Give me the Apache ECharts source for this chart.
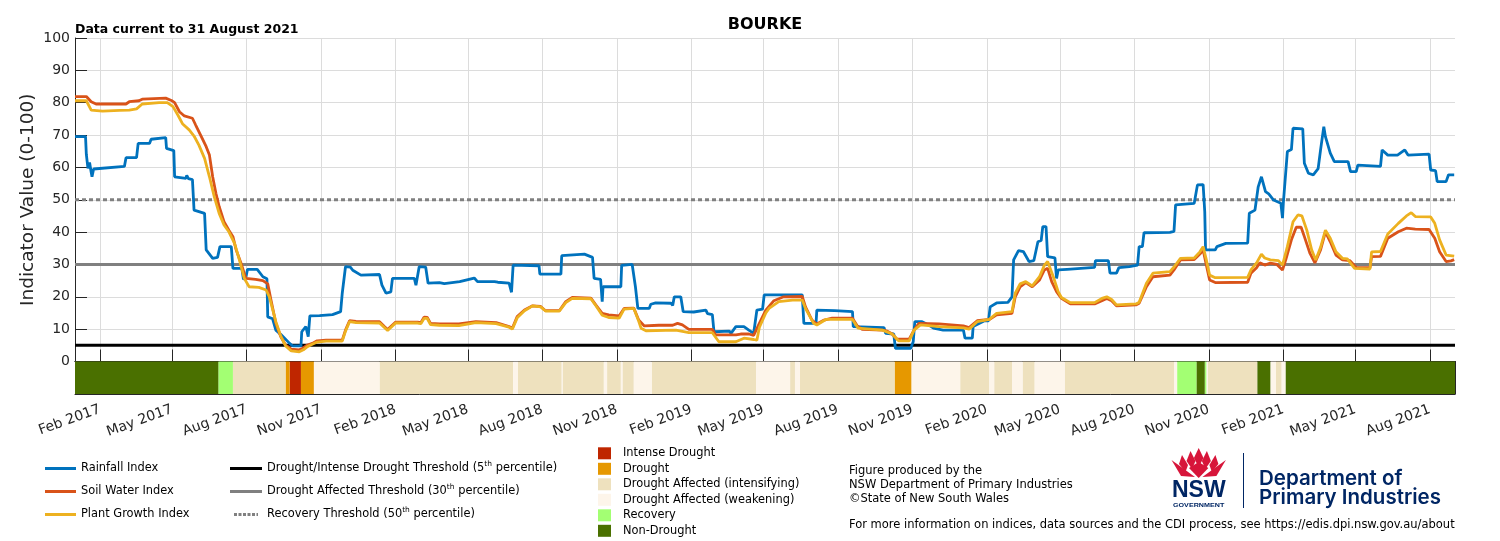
<!DOCTYPE html>
<html>
<head>
<meta charset="utf-8">
<title>BOURKE</title>
<script src="https://cdn.jsdelivr.net/npm/echarts@6.0.0/dist/echarts.min.js"></script>
<style>
  html, body { margin: 0; padding: 0; background: #fff; }
  #chart { width: 1500px; height: 541px; }
</style>
</head>
<body>
<div id="chart"></div>
<script>
// time range of the plot
var xMin = '2017-01-01';
var xMax = '2021-09-01';

// quarterly ticks
var tickDates = ['2017-02-01','2017-05-01','2017-08-01','2017-11-01','2018-02-01','2018-05-01','2018-08-01','2018-11-01',
  '2019-02-01','2019-05-01','2019-08-01','2019-11-01','2020-02-01','2020-05-01','2020-08-01','2020-11-01',
  '2021-02-01','2021-05-01','2021-08-01'];
var tickLabels = ['Feb 2017','May 2017','Aug 2017','Nov 2017','Feb 2018','May 2018','Aug 2018','Nov 2018',
  'Feb 2019','May 2019','Aug 2019','Nov 2019','Feb 2020','May 2020','Aug 2020','Nov 2020',
  'Feb 2021','May 2021','Aug 2021'];

// indices
var rainfallIndex = [['2017-01-01',69.5],['2017-01-14',69.5],['2017-01-15',64],['2017-01-17',59.7],['2017-01-19',61.5],['2017-01-21',58.5],['2017-01-22',57.1],['2017-01-24',59.5],['2017-01-25',60.1],['2017-03-03',60.3],['2017-03-05',63.0],['2017-03-18',63.0],['2017-03-20',67.4],['2017-04-03',67.4],['2017-04-05',68.7],['2017-04-23',69.2],['2017-04-24',65.9],['2017-05-03',65.2],['2017-05-04',57.1],['2017-05-18',56.6],['2017-05-19',57.5],['2017-05-21',56.5],['2017-05-26',56.2],['2017-05-28',46.8],['2017-06-10',45.8],['2017-06-12',34.5],['2017-06-20',31.9],['2017-06-26',32.2],['2017-06-29',35.5],['2017-07-13',35.5],['2017-07-15',28.8],['2017-07-26',28.8],['2017-07-28',25.4],['2017-07-31',26.0],['2017-08-02',28.5],['2017-08-14',28.5],['2017-08-21',26.2],['2017-08-26',25.6],['2017-08-27',13.8],['2017-09-02',13.2],['2017-09-06',9.7],['2017-09-12',8.4],['2017-09-23',5.6],['2017-09-27',4.8],['2017-10-07',4.8],['2017-10-08',9.2],['2017-10-13',10.8],['2017-10-16',7.7],['2017-10-18',14.1],['2017-10-30',14.2],['2017-11-15',14.5],['2017-11-25',15.4],['2017-11-27',21.1],['2017-12-01',29.3],['2017-12-07',29.2],['2017-12-10',28.2],['2017-12-20',26.7],['2018-01-12',26.9],['2018-01-15',23.6],['2018-01-20',21.1],['2018-01-26',21.5],['2018-01-28',25.7],['2018-02-24',25.7],['2018-02-26',23.6],['2018-03-02',29.3],['2018-03-10',29.2],['2018-03-13',24.2],['2018-03-27',24.4],['2018-04-02',24.1],['2018-04-21',24.7],['2018-05-09',25.8],['2018-05-13',24.7],['2018-06-03',24.7],['2018-06-07',24.5],['2018-06-21',24.2],['2018-06-24',21.4],['2018-06-26',29.8],['2018-07-28',29.6],['2018-07-29',27.0],['2018-08-24',27.0],['2018-08-25',32.7],['2018-09-22',33.2],['2018-10-02',32.2],['2018-10-04',25.7],['2018-10-12',25.4],['2018-10-14',18.5],['2018-10-15',23.1],['2018-11-06',23.1],['2018-11-07',29.7],['2018-11-20',30.0],['2018-11-24',23.1],['2018-11-27',16.4],['2018-12-11',16.4],['2018-12-13',17.7],['2018-12-19',18.1],['2019-01-07',18.0],['2019-01-09',17.3],['2019-01-11',20.0],['2019-01-19',20.0],['2019-01-22',15.4],['2019-02-04',15.3],['2019-02-06',15.9],['2019-02-19',15.9],['2019-02-21',14.8],['2019-02-27',14.5],['2019-03-01',9.2],['2019-03-20',9.4],['2019-03-22',8.7],['2019-03-28',10.8],['2019-04-07',10.8],['2019-04-13',9.7],['2019-04-19',8.7],['2019-04-23',15.9],['2019-04-30',16.2],['2019-05-02',20.6],['2019-06-18',20.6],['2019-06-20',11.8],['2019-07-05',11.8],['2019-07-06',15.9],['2019-07-28',15.7],['2019-08-19',15.4],['2019-08-20',10.8],['2019-09-27',10.5],['2019-09-29',8.7],['2019-10-09',8.5],['2019-10-11',4.1],['2019-10-30',4.1],['2019-11-02',6.1],['2019-11-04',12.3],['2019-11-13',12.3],['2019-11-21',11.3],['2019-11-27',10.3],['2019-12-09',9.7],['2020-01-03',9.7],['2020-01-05',7.2],['2020-01-14',7.2],['2020-01-15',10.8],['2020-01-29',12.6],['2020-02-03',12.6],['2020-02-05',16.9],['2020-02-13',18.1],['2020-02-27',18.3],['2020-03-03',20.0],['2020-03-05',31.4],['2020-03-11',34.3],['2020-03-17',34.0],['2020-03-24',30.9],['2020-03-30',31.2],['2020-04-04',37.0],['2020-04-08',37.4],['2020-04-10',41.7],['2020-04-14',41.7],['2020-04-16',32.4],['2020-04-25',32.0],['2020-04-27',25.7],['2020-04-29',28.3],['2020-05-10',28.5],['2020-06-13',29.1],['2020-06-14',31.2],['2020-06-30',31.2],['2020-07-02',27.3],['2020-07-10',27.3],['2020-07-13',29.0],['2020-07-26',29.3],['2020-08-05',29.8],['2020-08-07',35.5],['2020-08-11',35.5],['2020-08-13',39.8],['2020-09-14',39.9],['2020-09-19',40.2],['2020-09-21',48.4],['2020-10-14',48.9],['2020-10-18',54.6],['2020-10-25',54.7],['2020-10-27',46.3],['2020-10-28',34.5],['2020-11-09',34.5],['2020-11-11',35.5],['2020-11-22',36.5],['2020-12-19',36.6],['2020-12-21',45.8],['2020-12-28',46.8],['2021-01-01',54.0],['2021-01-05',57.1],['2021-01-10',52.5],['2021-01-14',51.8],['2021-01-20',49.9],['2021-01-29',48.9],['2021-01-31',44.3],['2021-02-01',48.9],['2021-02-06',64.9],['2021-02-11',65.5],['2021-02-13',72.1],['2021-02-25',71.9],['2021-02-27',61.3],['2021-03-04',58.2],['2021-03-10',57.7],['2021-03-16',59.6],['2021-03-19',65.4],['2021-03-23',72.6],['2021-03-25',69.5],['2021-03-31',64.4],['2021-04-05',61.8],['2021-04-22',61.8],['2021-04-25',58.7],['2021-05-02',58.7],['2021-05-04',60.7],['2021-06-01',60.3],['2021-06-03',65.4],['2021-06-10',63.8],['2021-06-22',63.8],['2021-07-01',65.4],['2021-07-05',63.8],['2021-07-31',64.1],['2021-08-02',59.2],['2021-08-08',59.0],['2021-08-10',55.6],['2021-08-21',55.6],['2021-08-24',57.7],['2021-08-31',57.7]];

var soilWaterIndex = [['2017-01-01',81.9],['2017-01-15',81.9],['2017-01-21',80.3],['2017-01-27',79.6],['2017-03-05',79.6],['2017-03-09',80.3],['2017-03-21',80.6],['2017-03-25',81.1],['2017-04-23',81.4],['2017-04-30',80.7],['2017-05-04',80.0],['2017-05-10',77.2],['2017-05-16',75.9],['2017-05-26',75.2],['2017-05-30',73.1],['2017-06-06',69.5],['2017-06-12',66.4],['2017-06-16',63.8],['2017-06-20',57.1],['2017-06-24',52.0],['2017-06-28',47.9],['2017-07-04',43.2],['2017-07-10',40.6],['2017-07-15',38.6],['2017-07-19',34.5],['2017-07-25',30.4],['2017-07-31',25.7],['2017-08-12',25.4],['2017-08-21',25.0],['2017-08-27',24.0],['2017-08-31',19.0],['2017-09-06',11.8],['2017-09-12',7.7],['2017-09-18',5.1],['2017-09-25',3.8],['2017-10-05',3.6],['2017-10-10',4.2],['2017-10-15',5.1],['2017-10-21',5.6],['2017-10-27',6.4],['2017-11-07',6.6],['2017-11-27',6.6],['2017-12-01',9.7],['2017-12-06',12.6],['2017-12-14',12.4],['2018-01-12',12.3],['2018-01-18',10.8],['2018-01-22',9.9],['2018-01-28',11.3],['2018-02-01',12.2],['2018-02-28',12.2],['2018-03-04',12.0],['2018-03-08',13.7],['2018-03-12',13.6],['2018-03-16',11.8],['2018-03-27',11.6],['2018-04-20',11.6],['2018-05-11',12.3],['2018-06-05',12.0],['2018-06-21',10.8],['2018-06-25',10.3],['2018-07-01',13.9],['2018-07-10',15.9],['2018-07-20',17.2],['2018-07-30',17.0],['2018-08-05',15.7],['2018-08-22',15.7],['2018-08-30',18.5],['2018-09-07',19.8],['2018-09-30',19.6],['2018-10-06',17.5],['2018-10-14',14.9],['2018-10-22',14.4],['2018-11-04',14.1],['2018-11-10',16.4],['2018-11-22',16.5],['2018-11-28',12.8],['2018-12-05',11.0],['2018-12-23',11.2],['2019-01-09',11.2],['2019-01-15',11.8],['2019-01-21',11.3],['2019-01-29',9.9],['2019-02-27',9.9],['2019-03-03',8.2],['2019-03-28',8.2],['2019-04-03',8.5],['2019-04-13',8.5],['2019-04-19',8.1],['2019-04-26',11.8],['2019-05-04',15.9],['2019-05-14',18.8],['2019-05-26',20.0],['2019-06-18',20.1],['2019-06-22',16.9],['2019-06-30',12.8],['2019-07-06',11.6],['2019-07-15',12.8],['2019-07-25',13.4],['2019-08-19',13.4],['2019-08-25',11.0],['2019-08-31',9.9],['2019-09-25',9.7],['2019-10-01',9.4],['2019-10-07',8.5],['2019-10-13',6.9],['2019-10-28',6.9],['2019-11-03',9.7],['2019-11-09',11.8],['2019-12-04',11.6],['2020-01-03',11.0],['2020-01-10',10.5],['2020-01-20',12.6],['2020-02-04',13.0],['2020-02-13',14.4],['2020-03-03',14.9],['2020-03-07',20.0],['2020-03-13',23.1],['2020-03-20',24.4],['2020-03-28',23.1],['2020-04-06',25.2],['2020-04-12',28.3],['2020-04-16',28.8],['2020-04-21',24.7],['2020-04-27',21.6],['2020-05-03',19.5],['2020-05-14',17.8],['2020-06-13',17.8],['2020-06-22',18.8],['2020-06-28',19.5],['2020-07-04',18.8],['2020-07-10',17.2],['2020-08-03',17.5],['2020-08-07',18.0],['2020-08-16',23.1],['2020-08-24',26.2],['2020-09-14',26.7],['2020-09-19',28.3],['2020-09-27',31.4],['2020-10-14',31.5],['2020-10-21',33.2],['2020-10-25',34.5],['2020-10-29',29.8],['2020-11-02',25.2],['2020-11-09',24.4],['2020-12-19',24.5],['2020-12-23',27.3],['2020-12-30',29.0],['2021-01-03',30.5],['2021-01-09',29.8],['2021-01-16',30.4],['2021-01-24',30.0],['2021-01-31',28.3],['2021-02-04',31.4],['2021-02-11',37.6],['2021-02-17',41.5],['2021-02-23',41.5],['2021-02-27',38.6],['2021-03-06',33.4],['2021-03-12',30.5],['2021-03-19',34.5],['2021-03-25',40.1],['2021-03-31',37.0],['2021-04-07',32.9],['2021-04-15',31.4],['2021-04-24',31.2],['2021-05-02',29.1],['2021-05-19',29.0],['2021-05-21',32.4],['2021-06-01',32.5],['2021-06-10',38.1],['2021-06-23',40.1],['2021-07-03',41.2],['2021-07-14',40.9],['2021-07-31',40.8],['2021-08-07',38.1],['2021-08-13',33.9],['2021-08-21',30.9],['2021-08-27',31.1],['2021-08-31',31.5]];

var plantGrowthIndex = [['2017-01-01',80.6],['2017-01-15',80.6],['2017-01-21',77.7],['2017-02-04',77.4],['2017-02-25',77.6],['2017-03-09',77.7],['2017-03-18',78.1],['2017-03-25',79.6],['2017-04-15',80.0],['2017-04-25',80.0],['2017-05-02',78.8],['2017-05-08',76.2],['2017-05-14',73.4],['2017-05-22',71.6],['2017-05-28',69.7],['2017-06-03',66.9],['2017-06-10',62.8],['2017-06-16',57.1],['2017-06-22',50.9],['2017-06-28',45.8],['2017-07-04',42.2],['2017-07-10',40.1],['2017-07-17',36.5],['2017-07-23',31.4],['2017-07-29',25.7],['2017-08-04',23.1],['2017-08-16',22.9],['2017-08-25',22.1],['2017-08-29',20.0],['2017-09-06',12.3],['2017-09-12',7.9],['2017-09-18',4.8],['2017-09-25',3.3],['2017-10-05',3.0],['2017-10-10',3.6],['2017-10-15',4.6],['2017-10-21',5.3],['2017-10-27',6.0],['2017-11-07',6.3],['2017-11-27',6.3],['2017-12-01',9.4],['2017-12-06',12.3],['2017-12-14',12.0],['2018-01-12',11.9],['2018-01-18',10.5],['2018-01-22',9.6],['2018-01-28',11.0],['2018-02-01',11.9],['2018-02-28',11.9],['2018-03-04',11.7],['2018-03-08',13.3],['2018-03-12',13.3],['2018-03-16',11.4],['2018-03-27',11.2],['2018-04-20',11.1],['2018-05-11',12.0],['2018-06-05',11.7],['2018-06-21',10.6],['2018-06-25',10.0],['2018-07-01',13.5],['2018-07-10',15.7],['2018-07-20',17.2],['2018-07-30',16.9],['2018-08-05',15.6],['2018-08-22',15.6],['2018-08-30',18.2],['2018-09-07',19.5],['2018-09-30',19.4],['2018-10-06',17.3],['2018-10-14',14.3],['2018-10-22',13.6],['2018-11-04',13.4],['2018-11-10',16.2],['2018-11-22',16.4],['2018-11-28',12.5],['2018-12-01',10.3],['2018-12-07',9.5],['2019-01-13',9.7],['2019-01-29',8.9],['2019-02-27',8.9],['2019-03-03',7.5],['2019-03-07',6.1],['2019-03-28',6.1],['2019-04-07',7.2],['2019-04-19',6.8],['2019-04-23',6.6],['2019-04-26',10.5],['2019-05-04',15.0],['2019-05-08',16.4],['2019-05-20',18.5],['2019-06-06',19.0],['2019-06-18',19.0],['2019-06-22',16.4],['2019-07-02',11.8],['2019-07-06',11.3],['2019-07-17',13.0],['2019-08-19',13.0],['2019-08-26',10.3],['2019-09-25',9.7],['2019-10-07',8.5],['2019-10-15',6.4],['2019-10-28',6.4],['2019-11-03',9.7],['2019-11-11',11.3],['2019-12-04',10.8],['2020-01-03',10.4],['2020-01-10',10.0],['2020-01-20',12.3],['2020-02-04',13.0],['2020-02-13',14.9],['2020-03-03',15.4],['2020-03-07',21.1],['2020-03-13',24.0],['2020-03-20',24.7],['2020-03-28',23.4],['2020-04-06',26.2],['2020-04-12',29.8],['2020-04-16',30.9],['2020-04-23',26.2],['2020-04-29',21.6],['2020-05-03',19.8],['2020-05-14',18.2],['2020-06-13',18.2],['2020-06-22',19.5],['2020-06-28',20.0],['2020-07-04',19.2],['2020-07-10',17.5],['2020-08-03',17.8],['2020-08-07',18.3],['2020-08-16',24.2],['2020-08-24',27.3],['2020-09-14',27.8],['2020-09-19',29.2],['2020-09-27',31.9],['2020-10-14',32.0],['2020-10-21',33.9],['2020-10-25',35.5],['2020-10-29',31.4],['2020-11-02',26.7],['2020-11-09',25.9],['2020-12-19',26.0],['2020-12-23',28.3],['2020-12-30',30.5],['2021-01-05',33.2],['2021-01-09',32.0],['2021-01-16',31.4],['2021-01-26',31.2],['2021-01-31',29.8],['2021-02-06',35.5],['2021-02-13',43.2],['2021-02-19',45.3],['2021-02-24',45.0],['2021-03-02',40.6],['2021-03-08',34.5],['2021-03-13',31.4],['2021-03-19',35.3],['2021-03-25',40.6],['2021-03-31',38.1],['2021-04-07',33.9],['2021-04-15',31.9],['2021-04-21',31.7],['2021-04-30',28.8],['2021-05-19',28.6],['2021-05-21',33.9],['2021-06-01',34.0],['2021-06-10',39.4],['2021-06-23',42.7],['2021-07-03',45.0],['2021-07-09',46.0],['2021-07-14',44.8],['2021-08-02',44.7],['2021-08-07',42.7],['2021-08-13',37.6],['2021-08-21',32.9],['2021-08-31',32.6]];

// thresholds
var intenseThreshold = 5;
var affectedThreshold = 30;
var recoveryThreshold = 50;

// drought status periods [from, to]
var intenseDrought = [['2017-09-23','2017-10-07']];
var drought = [['2017-09-18','2017-09-23'],['2017-10-07','2017-10-23'],['2019-10-10','2019-10-31']];
var affectedIntensifying = [['2017-07-15','2017-09-18'],['2018-01-12','2018-06-26'],['2018-07-02','2018-08-25'],['2018-08-26','2018-10-16'],['2018-10-20','2018-11-06'],['2018-11-08','2018-11-22'],['2018-12-14','2019-04-22'],['2019-06-03','2019-06-09'],['2019-06-15','2019-10-10'],['2019-12-30','2020-02-04'],['2020-02-10','2020-03-03'],['2020-03-16','2020-03-31'],['2020-05-07','2020-09-19'],['2020-10-31','2020-12-31'],['2021-01-23','2021-01-30']];
var affectedWeakening = [['2017-10-23','2018-01-12'],['2018-06-26','2018-07-02'],['2018-08-25','2018-08-26'],['2018-10-16','2018-10-20'],['2018-11-06','2018-11-08'],['2018-11-22','2018-12-14'],['2019-04-22','2019-06-03'],['2019-06-09','2019-06-15'],['2019-10-31','2019-12-30'],['2020-02-04','2020-02-10'],['2020-03-03','2020-03-16'],['2020-03-31','2020-05-07'],['2020-09-19','2020-09-23'],['2020-10-29','2020-10-31'],['2021-01-16','2021-01-23'],['2021-01-30','2021-02-04']];
var recovery = [['2017-06-27','2017-07-15'],['2020-09-23','2020-10-17'],['2020-10-27','2020-10-29']];
var nonDrought = [['2017-01-01','2017-06-27'],['2020-10-17','2020-10-27'],['2020-12-31','2021-01-16'],['2021-02-04','2021-09-01']];

var FONT = 'DejaVu Sans';
var TXT = '#262626';
var LEG = 11.4;

// dates -> ms (the x axes are plain value axes holding timestamps)
function ts(d) { return echarts.time.parse(d).getTime(); }
function toPoints(arr) { return arr.map(function (p) { return [ts(p[0]), p[1]]; }); }
function toSpans(arr) { return arr.map(function (p) { return [ts(p[0]), ts(p[1])]; }); }

var xMinTs = ts(xMin);
var xMaxTs = ts(xMax);
var tickValues = tickDates.map(ts);

var chart = echarts.init(document.getElementById('chart'));

function lineSeries(name, data, color) {
  return {
    name: name, type: 'line', data: toPoints(data), xAxisIndex: 0, yAxisIndex: 0,
    showSymbol: false, symbol: 'none', z: 5, silent: true,
    itemStyle: { color: color },
    lineStyle: { color: color, width: 2.8 }
  };
}

function thresholdSeries(name, value, color, type) {
  return {
    name: name, type: 'line', data: [[xMinTs, value], [xMaxTs, value]],
    xAxisIndex: 0, yAxisIndex: 0, showSymbol: false, symbol: 'none', z: 3, silent: true,
    itemStyle: { color: color },
    lineStyle: { color: color, width: 3, type: type }
  };
}

function statusSeries(name, data, color) {
  return {
    name: name, type: 'custom', data: toSpans(data), xAxisIndex: 2, yAxisIndex: 1,
    encode: { x: [0, 1] },
    itemStyle: { color: color }, silent: true, z: 1,
    renderItem: function (params, api) {
      var a = api.coord([api.value(0), 1]);
      var b = api.coord([api.value(1), 0]);
      return {
        type: 'rect',
        shape: { x: a[0], y: a[1], width: Math.max(b[0] - a[0], 0.8), height: b[1] - a[1] },
        style: { fill: color }
      };
    }
  };
}

function tickText(value) {
  for (var i = 0; i < tickValues.length; i++) {
    if (Math.abs(tickValues[i] - value) < 43200000) return tickLabels[i];
  }
  return '';
}

function timeAxis(extra) {
  var base = {
    type: 'value', min: xMinTs, max: xMaxTs, scale: true,
    axisLine: { show: true, onZero: false, lineStyle: { color: '#262626', width: 1 } },
    axisTick: { show: true, inside: true, length: 10, customValues: tickValues, lineStyle: { color: '#262626' } },
    axisLabel: { show: false },
    splitLine: { show: false }
  };
  return Object.assign(base, extra);
}

// waratah petals for the logo
var petals = [
  [[1198.7,448],[1203.5,458],[1198.7,467],[1193.9,458]],
  [[1190.5,451],[1195.5,461],[1192,469],[1186.5,461]],
  [[1206.9,451],[1210.9,461],[1205.4,469],[1201.9,461]],
  [[1182,455],[1188,465],[1185.5,472],[1179,464]],
  [[1215.4,455],[1218.4,464],[1211.9,472],[1209.4,465]],
  [[1171.5,460],[1184,469],[1195,477],[1181,476]],
  [[1225.9,460],[1216.4,476],[1202.4,477],[1213.4,469]],
  [[1189,468],[1198.7,462],[1208.4,468],[1198.7,478]]
];
var logoGraphics = petals.map(function (p) {
  return { type: 'polygon', shape: { points: p }, style: { fill: '#D7153A' }, silent: true };
});

var option = {
  animation: false,
  backgroundColor: '#ffffff',
  textStyle: { fontFamily: FONT },
  title: [
    { text: 'BOURKE', left: 760, top: 12, textAlign: 'center',
      textStyle: { fontSize: 16, fontWeight: 'bold', color: '#000', fontFamily: FONT } },
    { text: 'Data current to 31 August 2021', left: 75, top: 23, padding: 0,
      textStyle: { fontSize: 12.5, fontWeight: 'bold', color: '#000', fontFamily: FONT } }
  ],
  grid: [
    { left: 75, top: 38, width: 1380, height: 323.5 },
    { left: 75, top: 361.5, width: 1380, height: 32.5 }
  ],
  xAxis: [
    timeAxis({
      gridIndex: 0, position: 'bottom',
      axisTick: { show: true, inside: true, length: 12, customValues: tickValues, lineStyle: { color: '#262626' } },
      splitLine: { show: true, lineStyle: { color: '#dcdcdc', width: 1 } }
    }),
    timeAxis({ gridIndex: 1, position: 'top' }),
    timeAxis({
      gridIndex: 1, position: 'bottom',
      axisLabel: {
        show: true, customValues: tickValues, rotate: 20, margin: 15,
        fontSize: 14, color: TXT, fontFamily: FONT, formatter: tickText
      }
    })
  ],
  yAxis: [
    {
      type: 'value', gridIndex: 0, min: 0, max: 100, interval: 10,
      name: 'Indicator Value (0-100)', nameLocation: 'middle', nameGap: 37, nameRotate: 90,
      nameMoveOverlap: false,
      nameTextStyle: { fontSize: 18.5, color: TXT, fontFamily: FONT },
      axisLine: { show: true, lineStyle: { color: '#262626' } },
      axisTick: { show: true, inside: true, length: 12, lineStyle: { color: '#262626' } },
      axisLabel: { fontSize: 14, color: TXT, fontFamily: FONT, margin: 5 },
      splitLine: { show: true, lineStyle: { color: '#dcdcdc', width: 1 } }
    },
    {
      type: 'value', gridIndex: 1, min: 0, max: 1, interval: 0.5, position: 'left',
      axisLine: { show: true, lineStyle: { color: '#262626' } },
      axisTick: { show: true, inside: true, length: 12, lineStyle: { color: '#262626' } },
      axisLabel: { show: false }, splitLine: { show: false }
    },
    {
      type: 'value', gridIndex: 1, min: 0, max: 1, interval: 0.5, position: 'right',
      axisLine: { show: true, lineStyle: { color: '#262626' } },
      axisTick: { show: true, inside: true, length: 12, lineStyle: { color: '#262626' } },
      axisLabel: { show: false }, splitLine: { show: false }
    }
  ],
  legend: [
    {
      left: 45, top: 461.5, padding: 0, height: 80, orient: 'vertical', itemGap: 9, itemWidth: 31, itemHeight: 3,
      selectedMode: false,
      textStyle: { fontSize: LEG, color: '#000', fontFamily: FONT, lineHeight: 14 },
      data: [
        { name: 'Rainfall Index', icon: 'rect' },
        { name: 'Soil Water Index', icon: 'rect' },
        { name: 'Plant Growth Index', icon: 'rect' }
      ]
    },
    {
      left: 230, top: 460.5, padding: 0, height: 80, orient: 'vertical', itemGap: 7, itemWidth: 32, itemHeight: 3,
      selectedMode: false,
      textStyle: {
        fontSize: LEG, color: '#000', fontFamily: FONT, lineHeight: 16,
        rich: { sup: { fontSize: 7.5, verticalAlign: 'top', lineHeight: 16, color: '#000', fontFamily: FONT } }
      },
      formatter: function (name) { return name.replace(/(\d+)th/, '$1{sup|th}'); },
      data: [
        { name: 'Drought/Intense Drought Threshold (5th percentile)', icon: 'rect' },
        { name: 'Drought Affected Threshold (30th percentile)', icon: 'rect' },
        { name: 'Recovery Threshold (50th percentile)',
          icon: 'path://M0 0h4v4h-4zM6 0h4v4h-4zM12 0h4v4h-4zM18 0h4v4h-4zM24 0h4v4h-4zM30 0h2v4h-2z' }
      ]
    },
    {
      left: 598, top: 446.3, padding: 0, height: 100, orient: 'vertical', itemGap: 1.5, itemWidth: 13, itemHeight: 12,
      selectedMode: false,
      textStyle: { fontSize: LEG, color: '#000', fontFamily: FONT, lineHeight: 14, padding: [0, 0, 0, 7] },
      data: [
        { name: 'Intense Drought', icon: 'rect' },
        { name: 'Drought', icon: 'rect' },
        { name: 'Drought Affected (intensifying)', icon: 'rect' },
        { name: 'Drought Affected (weakening)', icon: 'rect' },
        { name: 'Recovery', icon: 'rect' },
        { name: 'Non-Drought', icon: 'rect' }
      ]
    }
  ],
  graphic: [
    { type: 'text', left: 849, top: 465, silent: true,
      style: { text: 'Figure produced by the', fontSize: 11.5, fill: '#000', fontFamily: FONT } },
    { type: 'text', left: 849, top: 479, silent: true,
      style: { text: 'NSW Department of Primary Industries', fontSize: 11.5, fill: '#000', fontFamily: FONT } },
    { type: 'text', left: 849, top: 493, silent: true,
      style: { text: '\u00A9State of New South Wales', fontSize: 11.5, fill: '#000', fontFamily: FONT } },
    { type: 'text', left: 849, top: 519, silent: true,
      style: { text: 'For more information on indices, data sources and the CDI process, see https://edis.dpi.nsw.gov.au/about',
        fontSize: 11.5, fill: '#000', fontFamily: FONT } },
    { type: 'text', left: 1172, top: 479, silent: true,
      style: { text: 'NSW', fontSize: 23, fontWeight: 'bold', fill: '#002664', fontFamily: 'Liberation Sans' } },
    { type: 'text', left: 1173, top: 502, scaleX: 1.3, silent: true,
      style: { text: 'GOVERNMENT', fontSize: 5.5, fontWeight: 'bold', fill: '#002664', fontFamily: 'Liberation Sans' } },
    { type: 'line', silent: true, shape: { x1: 1243.5, y1: 453, x2: 1243.5, y2: 508 },
      style: { stroke: '#002664', lineWidth: 1 } },
    { type: 'text', left: 1259, top: 468, silent: true,
      style: { text: 'Department of', fontSize: 20.5, fontWeight: 600, fill: '#002664', fontFamily: 'Inter' } },
    { type: 'text', left: 1259, top: 487, silent: true,
      style: { text: 'Primary Industries', fontSize: 20.5, fontWeight: 600, fill: '#002664', fontFamily: 'Inter' } }
  ].concat(logoGraphics),
  series: [
    thresholdSeries('Drought/Intense Drought Threshold (5th percentile)', intenseThreshold, '#000000', 'solid'),
    thresholdSeries('Drought Affected Threshold (30th percentile)', affectedThreshold, '#808080', 'solid'),
    thresholdSeries('Recovery Threshold (50th percentile)', recoveryThreshold, '#808080', [4, 3]),
    lineSeries('Rainfall Index', rainfallIndex, '#0072BD'),
    lineSeries('Soil Water Index', soilWaterIndex, '#D95319'),
    lineSeries('Plant Growth Index', plantGrowthIndex, '#EDB120'),
    statusSeries('Intense Drought', intenseDrought, '#BF2600'),
    statusSeries('Drought', drought, '#E69800'),
    statusSeries('Drought Affected (intensifying)', affectedIntensifying, '#EEE1BE'),
    statusSeries('Drought Affected (weakening)', affectedWeakening, '#FDF5EA'),
    statusSeries('Recovery', recovery, '#A3FF73'),
    statusSeries('Non-Drought', nonDrought, '#4A7000')
  ]
};

chart.setOption(option);
</script>
</body>
</html>
